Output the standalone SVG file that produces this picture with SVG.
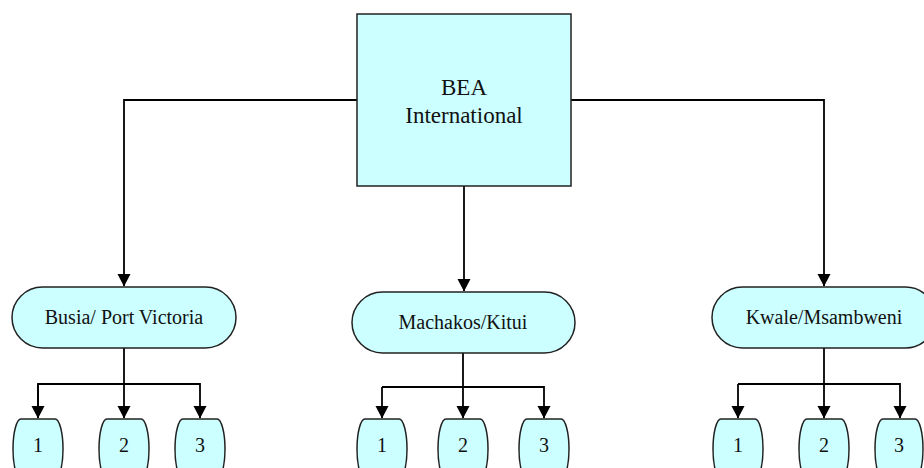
<svg xmlns="http://www.w3.org/2000/svg" width="924" height="468" viewBox="0 0 924 468">
<defs>
<marker id="arr" markerWidth="14" markerHeight="14" refX="12" refY="7" orient="auto" markerUnits="userSpaceOnUse">
<path d="M0,0.5 L12.5,7 L0,13.5 Z" fill="#000"/>
</marker>
</defs>
<style>
.node{fill:#ccffff;stroke:#222;stroke-width:1.5}
.t{font-family:"Liberation Serif","Times New Roman",serif;fill:#111;text-anchor:middle}
.big{font-size:23px}
.mid{font-size:20px}
.sm{font-size:20px}
.c{fill:none;stroke:#000;stroke-width:1.8}
</style>
<rect width="924" height="468" fill="#fff"/>
<g id="connectors">
<path class="c" d="M357,100 H124 V286" marker-end="url(#arr)"/>
<path class="c" d="M571,100 H824 V286" marker-end="url(#arr)"/>
<path class="c" d="M464,186 V291" marker-end="url(#arr)"/>
<path class="c" d="M124,348 V418" marker-end="url(#arr)"/>
<path class="c" d="M38,418 V384 H200 V418" marker-end="url(#arr)"/>
<path class="c" d="M38,384 V418" marker-end="url(#arr)"/>
<path class="c" d="M463,353 V418" marker-end="url(#arr)"/>
<path class="c" d="M382,387 H544 V418" marker-end="url(#arr)"/>
<path class="c" d="M382,387 V418" marker-end="url(#arr)"/>
<path class="c" d="M824,348 V418" marker-end="url(#arr)"/>
<path class="c" d="M738,384 H900 V418" marker-end="url(#arr)"/>
<path class="c" d="M738,384 V418" marker-end="url(#arr)"/>
</g>
<g id="bea">
<rect class="node" x="357" y="14" width="214" height="172"/>
<text class="t big" x="464" y="95">BEA</text>
<text class="t big" x="464" y="123">International</text>
</g>
<g id="busia">
<rect class="node" x="12" y="287" width="224" height="61" rx="30.5"/>
<text class="t mid" x="124" y="324">Busia/ Port Victoria</text>
</g>
<g id="machakos">
<rect class="node" x="352" y="292" width="223" height="61" rx="30.5"/>
<text class="t mid" x="463" y="329">Machakos/Kitui</text>
</g>
<g id="kwale">
<rect class="node" x="712" y="287" width="224" height="61" rx="30.5"/>
<text class="t mid" x="824" y="324">Kwale/Msambweni</text>
</g>
<g id="busia-1"><rect class="node" x="13" y="419" width="50" height="60" rx="8" ry="30"/><text class="t sm" x="38" y="452">1</text></g>
<g id="busia-2"><rect class="node" x="99" y="419" width="50" height="60" rx="8" ry="30"/><text class="t sm" x="124" y="452">2</text></g>
<g id="busia-3"><rect class="node" x="175" y="419" width="50" height="60" rx="8" ry="30"/><text class="t sm" x="200" y="452">3</text></g>
<g id="machakos-1"><rect class="node" x="357" y="419" width="50" height="60" rx="8" ry="30"/><text class="t sm" x="382" y="452">1</text></g>
<g id="machakos-2"><rect class="node" x="438" y="419" width="50" height="60" rx="8" ry="30"/><text class="t sm" x="463" y="452">2</text></g>
<g id="machakos-3"><rect class="node" x="519" y="419" width="50" height="60" rx="8" ry="30"/><text class="t sm" x="544" y="452">3</text></g>
<g id="kwale-1"><rect class="node" x="713" y="419" width="50" height="60" rx="8" ry="30"/><text class="t sm" x="738" y="452">1</text></g>
<g id="kwale-2"><rect class="node" x="799" y="419" width="50" height="60" rx="8" ry="30"/><text class="t sm" x="824" y="452">2</text></g>
<g id="kwale-3"><rect class="node" x="875" y="419" width="48" height="60" rx="8" ry="30"/><text class="t sm" x="899" y="452">3</text></g>
</svg>
